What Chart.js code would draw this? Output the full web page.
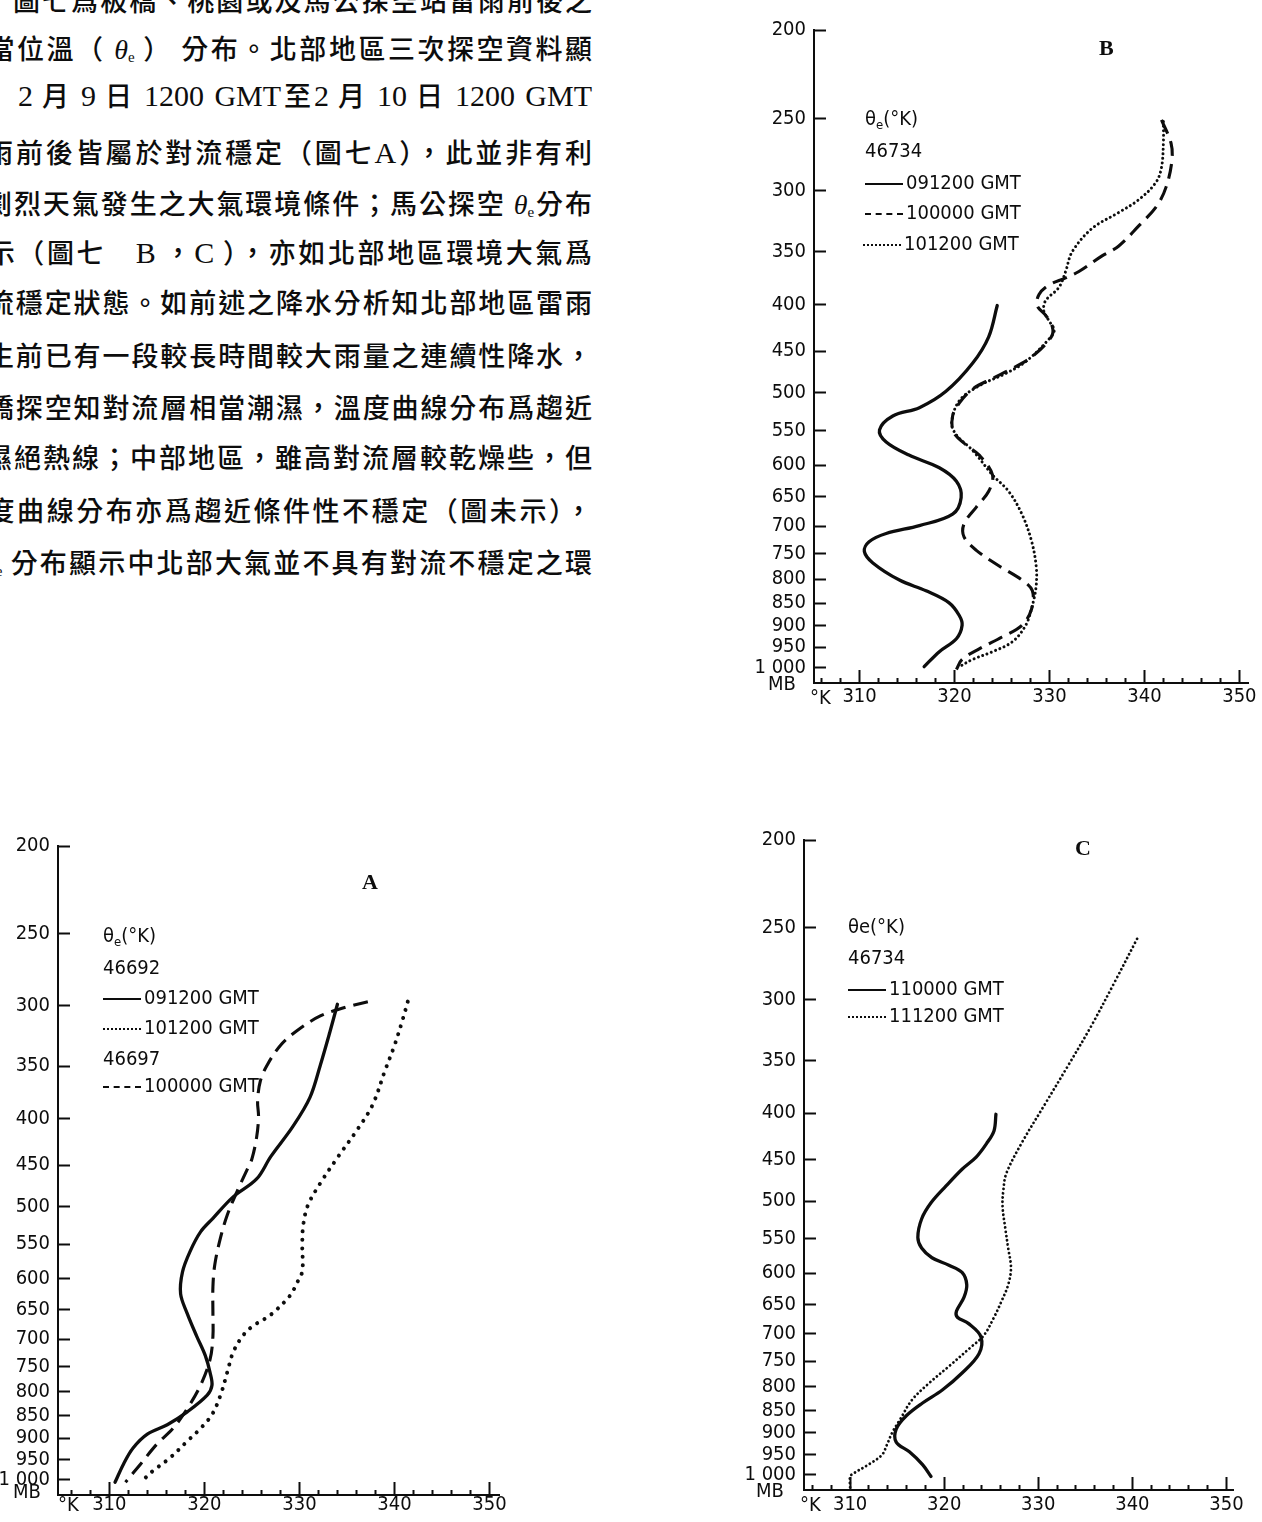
<!DOCTYPE html>
<html lang="zh-Hant">
<head>
<meta charset="utf-8">
<title>相當位溫 θe 垂直分布</title>
<script src="https://cdn.jsdelivr.net/npm/chart.js@4.4.1/dist/chart.umd.min.js"></script>
<style>
html,body{margin:0;padding:0;background:#fff}
body{position:relative;width:1262px;height:1522px;overflow:hidden}
.row{position:absolute;height:38px;line-height:38px;font-family:"Noto Sans CJK TC","Noto Sans CJK SC",sans-serif;font-weight:500;font-size:27px;color:#0d0d0d;text-align:justify;text-align-last:justify}
.lat{font-family:"Liberation Serif","DejaVu Serif",serif;font-weight:400;font-size:30px}
.th{font-family:"Liberation Serif",serif;font-weight:400;font-style:italic;font-size:28px}
.row sub{font-family:"Liberation Serif",serif;font-weight:400;font-size:15px;line-height:0;vertical-align:-3px}
canvas{position:absolute}
.leg{position:absolute;font-family:"DejaVu Sans Condensed","DejaVu Sans",sans-serif;font-stretch:condensed;font-size:20px;line-height:22px;color:#0d0d0d;white-space:nowrap}
.leg sub{font-size:13px;line-height:0;vertical-align:-4px}
.smp{display:inline-block;width:38px;height:0;vertical-align:middle;margin-right:3px;border-top:2px solid #0d0d0d}
.smp.dash{border-top-style:dashed}
.smp.dot{border-top-style:dotted}
.tag{position:absolute;font-family:"Liberation Serif",serif;font-weight:bold;font-size:22px;line-height:24px;color:#0d0d0d}
.ax{position:absolute;line-height:22px;color:#0d0d0d;white-space:nowrap}
</style>
</head>
<body>

<div class="row" style="left:13px;top:-19px;width:579px">圖七爲板橋、桃園或及馬公探空站雷雨前後之</div>
<div class="row" style="left:-42px;top:29px;width:634px">相當位溫（ <span class="th">θ</span><sub>e</sub> ） 分布。北部地區三次探空資料顯</div>
<div class="row" style="left:18px;top:76px;width:574px"><span class="lat">2</span> 月 <span class="lat">9</span> 日 <span class="lat">1200 GMT</span>至<span class="lat">2</span> 月 <span class="lat">10</span> 日 <span class="lat">1200 GMT</span></div>
<div class="row" style="left:-14px;top:133px;width:606px">雨前後皆屬於對流穩定（圖七<span class="lat">A</span>），此並非有利</div>
<div class="row" style="left:-15px;top:184px;width:607px">劇烈天氣發生之大氣環境條件；馬公探空 <span class="th">θ</span><sub>e</sub>分布</div>
<div class="row" style="left:-42px;top:233px;width:634px">顯示（圖七　<span class="lat">B</span> ，<span class="lat">C</span> ），亦如北部地區環境大氣爲</div>
<div class="row" style="left:-42px;top:283px;width:634px">對流穩定狀態。如前述之降水分析知北部地區雷雨</div>
<div class="row" style="left:-42px;top:336px;width:634px">發生前已有一段較長時間較大雨量之連續性降水，</div>
<div class="row" style="left:-71px;top:388px;width:663px">由板橋探空知對流層相當潮濕，溫度曲線分布爲趨近</div>
<div class="row" style="left:-15px;top:438px;width:607px">濕絕熱線；中部地區，雖高對流層較乾燥些，但</div>
<div class="row" style="left:-42px;top:491px;width:634px">溫度曲線分布亦爲趨近條件性不穩定（圖未示），</div>
<div class="row" style="left:-18px;top:543px;width:610px"><span class="th">θ</span><sub>e</sub> 分布顯示中北部大氣並不具有對流不穩定之環</div>

<canvas id="chartB"></canvas>
<canvas id="chartA"></canvas>
<canvas id="chartC"></canvas>

<!-- B legend -->
<div class="tag" style="left:1099px;top:36px">B</div>
<div class="leg" style="left:865px;top:107px">θ<sub>e</sub>(°K)</div>
<div class="leg" style="left:865px;top:139px">46734</div>
<div class="leg" style="left:865px;top:171px"><span class="smp"></span>091200 GMT</div>
<div class="leg" style="left:865px;top:201px"><span class="smp dash"></span>100000 GMT</div>
<div class="leg" style="left:863px;top:232px"><span class="smp dot"></span>101200 GMT</div>

<!-- A legend -->
<div class="tag" style="left:362px;top:870px">A</div>
<div class="leg" style="left:103px;top:924px">θ<sub>e</sub>(°K)</div>
<div class="leg" style="left:103px;top:956px">46692</div>
<div class="leg" style="left:103px;top:986px"><span class="smp"></span>091200 GMT</div>
<div class="leg" style="left:103px;top:1016px"><span class="smp dot"></span>101200 GMT</div>
<div class="leg" style="left:103px;top:1047px">46697</div>
<div class="leg" style="left:103px;top:1074px"><span class="smp dash"></span>100000 GMT</div>

<!-- C legend -->
<div class="tag" style="left:1075px;top:836px">C</div>
<div class="leg" style="left:848px;top:915px">θe(°K)</div>
<div class="leg" style="left:848px;top:946px">46734</div>
<div class="leg" style="left:848px;top:977px"><span class="smp"></span>110000 GMT</div>
<div class="leg" style="left:848px;top:1004px"><span class="smp dot"></span>111200 GMT</div>

<div class="ax" id="mbB" style="left:768px;top:672px">MB</div>
<div class="ax" id="kB" style="left:810px;top:686px">°K</div>
<div class="ax" id="mbA" style="left:13px;top:1480px">MB</div>
<div class="ax" id="kA" style="left:58px;top:1493px">°K</div>
<div class="ax" id="mbC" style="left:756px;top:1479px">MB</div>
<div class="ax" id="kC" style="left:800px;top:1493px">°K</div>

<script>
// ---------- axis ticks ----------
const yTickValues = [200,250,300,350,400,450,500,550,600,650,700,750,800,850,900,950,1000];
const yTickLabels = ['200','250','300','350','400','450','500','550','600','650','700','750','800','850','900','950','1 000'];
const xTickValues = [306,308,310,312,314,316,318,320,322,324,326,328,330,332,334,336,338,340,342,344,346,348,350];
const xTickLabels = [310,320,330,340,350];

// ---------- chart B (46734) ----------
const bSolidP = [401,434,464,498,519,530,549,566,585,604,625,651,679,699,713,728,746,768,802,824,849,877,899,930,961,998];
const bSolidT = [324.5,323.6,321.9,319.1,316.3,313.5,312.1,312.8,315.2,318.4,320.2,320.7,319.8,316.3,312.8,311.0,310.5,311.4,314.2,317.0,319.4,320.5,320.8,320.2,318.4,316.8];
const bDashP = [251,266,278,297,312,328,345,354,368,374,381,390,401,411,423,434,456,470,482,495,513,530,552,570,585,615,641,667,696,719,744,774,802,824,864,899,926,954,980,1005];
const bDashT = [341.8,342.8,342.9,342.3,341.3,339.4,337.3,335.5,333.1,331.7,329.9,328.9,328.7,329.6,330.3,330.2,328.2,326.1,324.0,321.9,320.5,319.8,319.9,321.2,322.6,324.0,323.6,322.3,321.0,321.0,322.3,324.7,327.1,328.2,328.1,327.1,325.0,322.6,320.8,320.2];
const bDotP = [252,266,283,294,307,317,330,350,368,383,396,406,416,427,437,462,476,491,510,539,556,578,615,641,679,726,774,814,855,899,937,961,980,998];
const bDotT = [342.0,342.0,341.8,341.2,339.4,337.3,334.5,332.4,331.7,331.0,329.6,329.4,329.9,330.5,329.9,327.5,325.4,322.6,320.5,319.7,320.2,321.9,324.0,325.7,327.1,328.1,328.6,328.6,328.2,327.5,326.1,324.0,321.9,320.5];

// ---------- chart A (46692 / 46697) ----------
const aSolidP = [299,321,349,379,408,440,466,488,515,533,560,590,624,656,695,730,762,787,807,842,870,891,923,961,1007];
const aSolidT = [334.0,333.2,332.2,331.1,329.3,327.0,325.5,323.0,320.9,319.6,318.5,317.7,317.5,318.2,319.2,320.1,320.6,320.8,320.3,318.2,316.1,314.0,312.5,311.5,310.6];
const aDashP = [297,301,308,320,332,349,363,382,398,419,443,455,482,511,541,579,613,656,695,737,787,835,878,914,961,1007];
const aDashT = [337.2,335.0,332.2,329.7,328.0,326.6,325.9,325.6,325.7,325.5,325.0,324.5,323.4,322.4,321.7,321.1,320.9,320.9,320.9,320.6,319.6,318.2,316.7,315.0,313.3,311.7];
const aDotP = [297,310,332,354,386,411,440,471,498,524,551,589,608,627,659,677,695,725,762,807,848,878,907,946,978,1000];
const aDotT = [341.4,340.9,340.0,339.0,337.7,336.1,334.1,332.2,330.9,330.4,330.3,330.3,329.7,329.0,326.9,325.1,324.0,323.0,322.4,321.7,320.8,319.6,318.2,316.4,314.6,313.6];

// ---------- chart C (46734) ----------
const cSolidP = [401,418,432,447,461,481,502,523,548,563,577,588,599,618,638,661,671,682,705,736,773,807,834,861,891,921,944,975,1005];
const cSolidT = [325.5,325.3,324.5,323.4,321.9,320.2,318.6,317.6,317.2,317.6,318.7,320.5,321.9,322.4,322.1,321.3,321.4,322.6,323.9,323.7,321.9,319.8,317.7,316.0,314.9,314.9,316.3,317.7,318.6];
const cDotP = [257,287,321,354,391,432,466,485,506,536,563,592,618,644,671,703,723,760,793,827,870,898,928,951,973,998,1005,1035];
const cDotT = [340.5,338.1,335.6,333.2,330.7,328.2,326.6,326.3,326.2,326.5,326.8,327.1,326.8,326.1,325.3,324.2,322.9,320.5,318.4,316.6,315.3,314.5,313.9,313.4,312.1,310.3,310.0,310.0];

const INK = '#0d0d0d';
const TICK_FAMILY = '"DejaVu Sans Condensed", "DejaVu Sans", sans-serif';
const TICK_SIZE = 20;
document.querySelectorAll('.ax').forEach(el => { el.style.fontFamily = TICK_FAMILY; el.style.fontSize = TICK_SIZE + 'px'; el.style.fontStretch = 'condensed'; });

function pts(T, P){ return T.map((t, i) => ({x: t, y: P[i]})); }
function solid(T, P){ return {data: pts(T, P), showLine: true, borderColor: INK, borderWidth: 3.3, tension: 0.35, pointRadius: 0, borderCapStyle: 'round', borderJoinStyle: 'round'}; }
function dashed(T, P){ return {data: pts(T, P), showLine: true, borderColor: INK, borderWidth: 3.1, borderDash: [15, 8], tension: 0.35, pointRadius: 0}; }
function dotted(T, P, w, gap){ return {data: pts(T, P), showLine: true, borderColor: INK, borderWidth: w, borderDash: [0.01, gap], borderCapStyle: 'round', tension: 0.35, pointRadius: 0}; }

const YW = 80, PT = 20, PR = 22, XH = 40;
function makeChart(id, box, xr, datasets, xPad){
  const cv = document.getElementById(id);
  const W = box.right - box.left + YW + PR;
  const H = box.bottom - box.top + PT + XH;
  cv.width = W; cv.height = H;
  cv.style.width = W + 'px'; cv.style.height = H + 'px';
  cv.style.left = (box.left - YW) + 'px'; cv.style.top = (box.top - PT) + 'px';
  const font = {family: TICK_FAMILY, size: TICK_SIZE};
  new Chart(cv, {
    type: 'scatter',
    data: {datasets},
    options: {
      responsive: false, animation: false, devicePixelRatio: 1,
      layout: {padding: {top: PT, right: PR, left: 0, bottom: 0}},
      plugins: {legend: {display: false}, tooltip: {enabled: false}},
      scales: {
        x: {
          type: 'linear', position: 'bottom', min: xr[0], max: xr[1], bounds: 'data',
          afterFit(s){ s.height = XH; },
          afterBuildTicks(s){ s.ticks = xTickValues.map(v => ({value: v})); },
          ticks: {autoSkip: false, maxRotation: 0, padding: xPad, color: INK, font,
                  callback: v => xTickLabels.includes(v) ? String(v) : ''},
          grid: {drawOnChartArea: false, drawTicks: true, tickLength: -13, tickWidth: 2, tickColor: INK,
                 tickBorderDash: c => (c.tick && xTickLabels.includes(c.tick.value)) ? [] : [6, 40]},
          border: {display: true, width: 2, color: INK}
        },
        y: {
          type: 'logarithmic', position: 'left', reverse: true, min: 200, max: 1040, bounds: 'data',
          afterFit(s){ s.width = YW; },
          afterBuildTicks(s){ s.ticks = yTickValues.map(v => ({value: v})); },
          ticks: {autoSkip: false, padding: 20, color: INK, font,
                  callback: v => { const i = yTickValues.indexOf(v); return i >= 0 ? yTickLabels[i] : ''; }},
          grid: {drawOnChartArea: false, drawTicks: true, tickLength: -12, tickWidth: 2, tickColor: INK},
          border: {display: true, width: 2, color: INK}
        }
      }
    }
  });
}

const lh = TICK_SIZE * 1.2 / 2;
makeChart('chartB', {left: 814, right: 1250, top: 18, bottom: 683}, [305.2, 351],
  [solid(bSolidT, bSolidP), dashed(bDashT, bDashP), dotted(bDotT, bDotP, 3, 4.6)], 14 + 13 - lh);
makeChart('chartA', {left: 58, right: 499, top: 834, bottom: 1495}, [304.6, 351],
  [solid(aSolidT, aSolidP), dashed(aDashT, aDashP), dotted(aDotT, aDotP, 4, 8.5)], 10 + 13 - lh);
makeChart('chartC', {left: 804, right: 1238, top: 828, bottom: 1490}, [305.1, 350.8],
  [solid(cSolidT, cSolidP), dotted(cDotT, cDotP, 2.8, 4.3)], 15 + 13 - lh);
</script>
</body>
</html>
